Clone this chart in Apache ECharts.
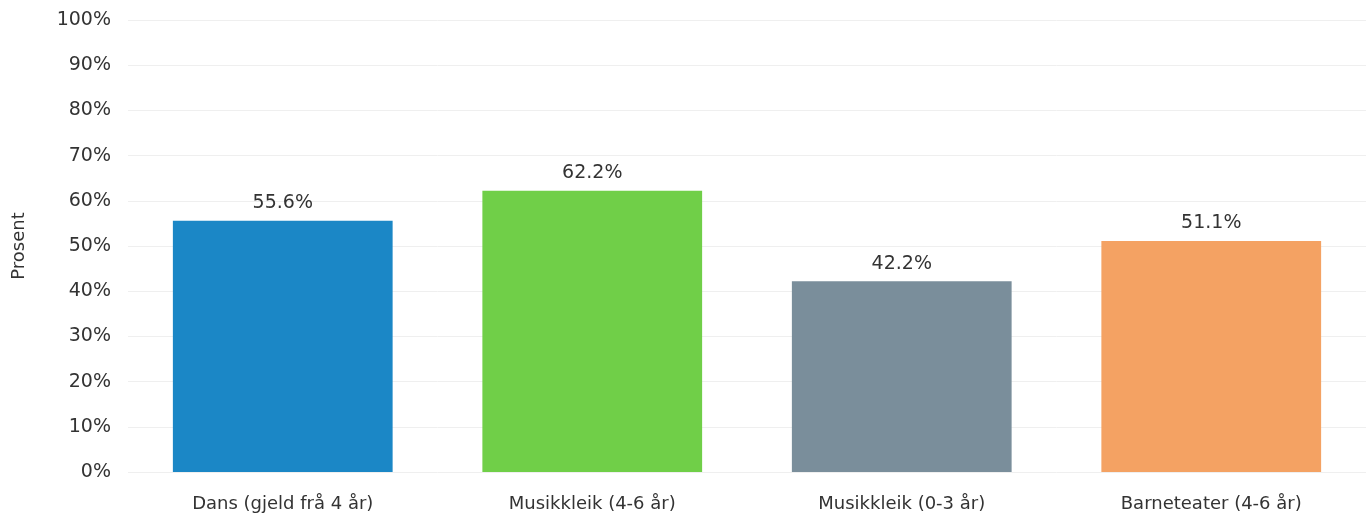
<!DOCTYPE html>
<html><head><meta charset="utf-8">
<script src="https://cdn.jsdelivr.net/npm/echarts@6/dist/echarts.min.js"></script>
<style>html,body{margin:0;padding:0;background:#fff}#c{width:1366px;height:521px}</style>
</head><body><div id="c"></div>
<script>
const categories = ['Dans (gjeld frå 4 år)', 'Musikkleik (4-6 år)', 'Musikkleik (0-3 år)', 'Barneteater (4-6 år)'];
const values = [55.6, 62.2, 42.2, 51.1];
const colors = ['#1b87c6', '#70cf48', '#7a8e9b', '#f4a263'];
const yTicks = [0, 10, 20, 30, 40, 50, 60, 70, 80, 90, 100];

const chart = echarts.init(document.getElementById('c'));
const font = '"DejaVu Sans", sans-serif';
chart.setOption({
  animation: false,
  grid: {left: 128, right: 0, top: 20, bottom: 49},
  xAxis: {
    type: 'category', data: categories,
    axisLine: {show: false}, axisTick: {show: false},
    axisLabel: {color: '#333', fontSize: 18, fontFamily: font, margin: 23}
  },
  yAxis: {
    type: 'value', min: yTicks[0], max: yTicks[yTicks.length - 1], interval: 10,
    name: 'Prosent', nameLocation: 'middle', nameGap: 100, nameRotate: 90,
    nameTextStyle: {color: '#333', fontSize: 18, fontFamily: font},
    axisLabel: {formatter: v => v + '%', color: '#333', fontSize: 19, fontFamily: font, margin: 17},
    splitLine: {lineStyle: {color: '#efefef', width: 1}},
    axisLine: {show: false}, axisTick: {show: false}
  },
  series: [{
    type: 'bar', barWidth: '71%',
    data: values.map((v, i) => ({value: v, itemStyle: {color: colors[i]}})),
    label: {show: true, position: 'top', distance: 8, formatter: p => p.value.toFixed(1) + '%',
      color: '#333', fontSize: 19, fontFamily: font}
  }]
});
</script></body></html>
